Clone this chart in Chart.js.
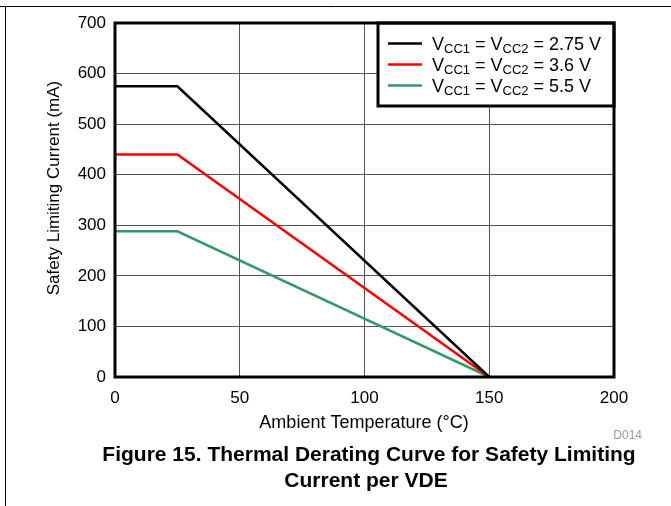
<!DOCTYPE html>
<html>
<head>
<meta charset="utf-8">
<title>Thermal Derating Curve</title>
<script src="https://cdn.jsdelivr.net/npm/chart.js@4.4.1/dist/chart.umd.min.js"></script>
<style>
    body { margin: 0; background: #fff; }
    #wrap { width: 671px; height: 506px; }
</style>
</head>
<body>
<div id="wrap"><canvas id="derating" width="671" height="506"></canvas></div>
<script>
// Data
const temps = [0, 25, 150];
const current275 = [575, 575, 0];
const current36 = [440, 440, 0];
const current55 = [288, 288, 0];
const xTickValues = [0, 50, 100, 150, 200];
const yTickValues = [0, 100, 200, 300, 400, 500, 600, 700];
const seriesNames = ['2.75 V', '3.6 V', '5.5 V'];
const seriesColors = ['#000000', '#ff0000', '#339966'];

const FONT = '"Liberation Sans", Arial, sans-serif';

function toPoints(ys) {
    return temps.map((t, i) => ({ x: t, y: ys[i] }));
}

// frame, plot box, legend with subscripts, titles
const decorations = {
    id: 'decorations',
    beforeDraw(chart) {
        const ctx = chart.ctx;
        ctx.save();
        ctx.strokeStyle = '#000';
        ctx.lineWidth = 1;
        ctx.beginPath();
        ctx.moveTo(0, 6.5);
        ctx.lineTo(671, 6.5);
        ctx.moveTo(5.5, 6.5);
        ctx.lineTo(5.5, 506);
        ctx.stroke();
        ctx.restore();
    },
    afterDraw(chart) {
        const ctx = chart.ctx;
        const a = chart.chartArea;
        ctx.save();

        // legend box
        const lx = 378, ly = a.top, lw = a.right - 378, lh = 83;
        ctx.fillStyle = '#fff';
        ctx.fillRect(lx, ly, lw, lh);
        const rows = [43.5, 64.5, 85.5];
        seriesNames.forEach((name, i) => {
            ctx.strokeStyle = seriesColors[i];
            ctx.lineWidth = 2.5;
            ctx.beginPath();
            ctx.moveTo(388, rows[i]);
            ctx.lineTo(422, rows[i]);
            ctx.stroke();

            let x = 432;
            const y = rows[i] + 6.5;
            ctx.fillStyle = '#000';
            ctx.textBaseline = 'alphabetic';
            ctx.textAlign = 'left';
            const parts = [
                ['V', false], ['CC1', true], [' = V', false], ['CC2', true], [' = ' + name, false]
            ];
            parts.forEach(([txt, sub]) => {
                ctx.font = (sub ? '13px ' : '18px ') + FONT;
                ctx.fillText(txt, x, sub ? y + 3 : y);
                x += ctx.measureText(txt).width;
            });
        });
        ctx.strokeStyle = '#000';
        ctx.lineWidth = 3;
        ctx.strokeRect(lx, ly, lw, lh);

        // plot border
        ctx.strokeRect(a.left, a.top, a.right - a.left, a.bottom - a.top);

        // axis titles
        ctx.fillStyle = '#000';
        ctx.textAlign = 'center';
        ctx.textBaseline = 'alphabetic';
        ctx.font = '18px ' + FONT;
        ctx.fillText('Ambient Temperature (\u00B0C)', 364, 428);
        ctx.save();
        ctx.translate(54, 188);
        ctx.rotate(-Math.PI / 2);
        ctx.textBaseline = 'middle';
        ctx.font = '17px ' + FONT;
        ctx.fillText('Safety Limiting Current (mA)', 0, 0);
        ctx.restore();

        // figure id
        ctx.fillStyle = '#999';
        ctx.font = '12px ' + FONT;
        ctx.textAlign = 'right';
        ctx.textBaseline = 'middle';
        ctx.fillText('D014', 642, 436);

        // caption
        ctx.fillStyle = '#000';
        ctx.textAlign = 'center';
        ctx.textBaseline = 'alphabetic';
        ctx.font = 'bold 21px ' + FONT;
        ctx.fillText('Figure 15. Thermal Derating Curve for Safety Limiting', 369, 461);
        ctx.fillText('Current per VDE', 366, 487);
        ctx.restore();
    }
};

new Chart(document.getElementById('derating'), {
    type: 'line',
    data: {
        datasets: [
            { label: seriesNames[0], data: toPoints(current275), borderColor: seriesColors[0] },
            { label: seriesNames[1], data: toPoints(current36), borderColor: seriesColors[1] },
            { label: seriesNames[2], data: toPoints(current55), borderColor: seriesColors[2] }
        ].map(d => Object.assign(d, { borderWidth: 2.5, pointRadius: 0, fill: false, tension: 0 }))
    },
    options: {
        responsive: false,
        animation: false,
        layout: { padding: { top: 23, right: 57, left: 0, bottom: 0 } },
        plugins: {
            legend: { display: false },
            tooltip: { enabled: false }
        },
        scales: {
            x: {
                type: 'linear',
                min: 0,
                max: 200,
                afterBuildTicks: s => { s.ticks = xTickValues.map(v => ({ value: v })); },
                afterFit: s => { s.height = 129; },
                grid: { color: '#555', lineWidth: 1, drawTicks: false },
                border: { display: false },
                ticks: { color: '#000', padding: 11, font: { family: FONT, size: 17 } }
            },
            y: {
                type: 'linear',
                min: 0,
                max: 700,
                afterBuildTicks: s => { s.ticks = yTickValues.map(v => ({ value: v })); },
                afterFit: s => { s.width = 115; },
                grid: { color: '#555', lineWidth: 1, drawTicks: false },
                border: { display: false },
                ticks: { color: '#000', padding: 9, font: { family: FONT, size: 17 } }
            }
        }
    },
    plugins: [decorations]
});
</script>
</body>
</html>
